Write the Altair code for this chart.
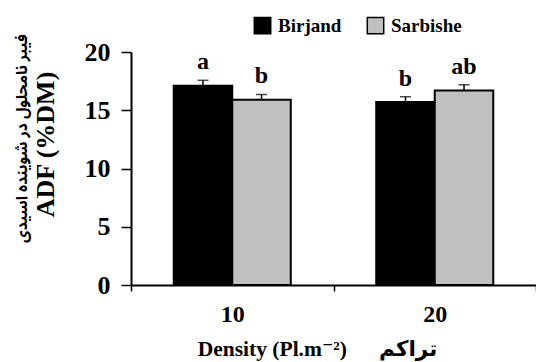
import altair as alt
import pandas as pd

density = ["10", "10", "20", "20"]
site = ["Birjand", "Sarbishe", "Birjand", "Sarbishe"]
adf = [17.1, 15.9, 15.7, 16.7]
se = [0.47, 0.46, 0.46, 0.49]
letters = ["a", "b", "b", "ab"]

df = pd.DataFrame({"density": density, "site": site, "adf": adf, "se": se, "letter": letters})
df["upper"] = df["adf"] + df["se"]

SERIF = "Liberation Serif"
MIXED = "Liberation Serif, DejaVu Sans"
sites = ["Birjand", "Sarbishe"]
y_title_fa = "\u0641\u06cc\u0628\u0631 \u0646\u0627\u0645\u062d\u0644\u0648\u0644 \u062f\u0631 \u0634\u0648\u06cc\u0646\u062f\u0647 \u0627\u0633\u06cc\u062f\u06cc"
y_title_en = "ADF (%DM)"
x_title = "Density (Pl.m\u207b\u00b2)\u2003\u00a0\u00a0\u062a\u0631\u0627\u06a9\u0645"

xscale = alt.Scale(domain=["10", "20"], paddingInner=0, paddingOuter=0)
offscale = alt.Scale(domain=sites, paddingInner=0, paddingOuter=0.73)
yscale = alt.Scale(domain=[0, 20])

x_axis = alt.Axis(
    title=x_title,
    labelAngle=0, tickBand="extent", domainColor="black", domainWidth=2,
    tickColor="black", tickSize=6, tickWidth=1.5,
    labelFont=SERIF, labelFontSize=24, labelFontWeight="bold", labelColor="black",
    labelBaseline="alphabetic", labelPadding=30,
    titleFont=MIXED, titleFontSize=21.5, titleFontWeight="bold", titleColor="black",
    titleX=186, titleY=70, titleBaseline="alphabetic", titleAnchor="start", titleAlign="center",
    grid=False,
)
y_axis = alt.Axis(
    title=y_title_en,
    values=[0, 5, 10, 15, 20], domainColor="black", domainWidth=2,
    tickColor="black", tickSize=10, tickWidth=1.5,
    labelFont=SERIF, labelFontSize=26, labelFontWeight="bold", labelColor="black",
    labelPadding=11,
    titleFont=SERIF, titleFontSize=26, titleFontWeight="bold", titleColor="black",
    titleX=-78, titleY=92, titleBaseline="alphabetic", titleAlign="center",
    grid=False,
)

base = alt.Chart(df)
X = alt.X("density:N", scale=xscale, axis=x_axis)
XO = alt.XOffset("site:N", scale=offscale)

bars = base.mark_bar(stroke="black", strokeWidth=2).encode(
    x=X, xOffset=XO,
    y=alt.Y("adf:Q", scale=yscale, axis=y_axis),
    color=alt.Color("site:N", scale=alt.Scale(domain=sites, range=["#000000", "#C0C0C0"]),
                    legend=alt.Legend(title=None)),
)

rules = base.mark_rule(color="black", strokeWidth=1.5).encode(
    x=X, xOffset=XO,
    y=alt.Y("adf:Q", scale=yscale, axis=y_axis),
    y2="upper:Q",
)

caps = base.mark_tick(color="black", thickness=1.5, size=11, orient="horizontal").encode(
    x=X, xOffset=XO,
    y=alt.Y("upper:Q", scale=yscale, axis=y_axis),
)

labels = base.mark_text(font=SERIF, fontSize=24, fontWeight="bold", color="black",
                        baseline="alphabetic", dy=-11).encode(
    x=X, xOffset=XO,
    y=alt.Y("upper:Q", scale=yscale, axis=y_axis),
    text="letter:N",
)

chart = alt.layer(bars, rules, caps, labels).properties(
    width=405, height=233,
    autosize=alt.AutoSizeParams(type="none"),
    padding={"left": 131, "top": 52, "right": 0, "bottom": 77},
    title=alt.TitleParams(
        text=y_title_fa, orient="left", anchor="middle", angle=-90,
        font="Noto Sans Arabic, DejaVu Sans Condensed, DejaVu Sans", fontSize=15.5,
        fontWeight="bold", color="black",
        offset=2, dx=30,
    ),
).configure_view(stroke=None).configure_legend(
    orient="none", legendX=122, legendY=-36, direction="horizontal",
    symbolType="square", symbolSize=270, symbolStrokeColor="black", symbolStrokeWidth=1.5,
    labelFont=SERIF, labelFontSize=19, labelFontWeight="bold", labelColor="black",
    labelOffset=6, columnPadding=22, padding=0, symbolOpacity=1,
)

chart.save("out.html", embed_options={"renderer": "svg", "actions": False})
